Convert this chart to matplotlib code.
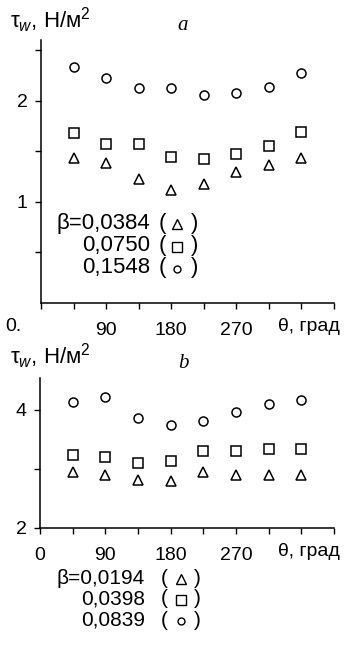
import matplotlib
matplotlib.use('Agg')
import matplotlib.pyplot as plt
from matplotlib.lines import Line2D

plt.rcParams['font.family'] = ['Liberation Sans', 'DejaVu Sans']
plt.rcParams['mathtext.fontset'] = 'custom'
plt.rcParams['mathtext.rm'] = 'Liberation Sans'
plt.rcParams['mathtext.it'] = 'Liberation Sans:italic'

# angle, degrees
theta = [45, 90, 135, 180, 225, 270, 315, 360]

# panel a
a_tri = [1.43, 1.38, 1.23, 1.12, 1.18, 1.30, 1.36, 1.43]
a_sq = [1.68, 1.57, 1.57, 1.44, 1.42, 1.47, 1.55, 1.69]
a_circ = [2.33, 2.22, 2.13, 2.13, 2.06, 2.08, 2.14, 2.27]
a_beta = ['β=0,0384', '0,0750', '0,1548']

# panel b
b_tri = [2.94, 2.89, 2.82, 2.80, 2.94, 2.89, 2.90, 2.90]
b_sq = [3.23, 3.21, 3.10, 3.14, 3.30, 3.30, 3.33, 3.33]
b_circ = [4.13, 4.21, 3.86, 3.75, 3.82, 3.96, 4.10, 4.17]
b_beta = ['β=0,0194', '0,0398', '0,0839']

W, H = 347, 651
fig = plt.figure(figsize=(W / 100, H / 100), dpi=100)

FS = 14


def px(x, y):
  # pixel position -> figure fraction
  return x / W, 1 - y / H


def setup(ax, ylim, yticks, ylabels):
  ax.set_xlim(0, 405)
  ax.set_ylim(*ylim)
  for s in ['top', 'right']:
    ax.spines[s].set_visible(False)
  for s in ['left', 'bottom']:
    ax.spines[s].set_linewidth(1.1)
  ax.set_xticks([0, 45, 90, 135, 180, 225, 270, 315, 360, 405])
  ax.set_yticks(yticks)
  ax.set_yticklabels(ylabels)
  ax.tick_params(direction='out', length=4.5, width=1.0, labelsize=FS)
  ax.tick_params(axis='x', pad=9)
  ax.tick_params(axis='y', pad=5)
  ax.annotate('θ, град', xy=(371, 0), xycoords=('data', 'axes fraction'),
              xytext=(0, -11), textcoords='offset points',
              ha='center', va='top', fontsize=FS)


def draw(ax, tri, sq, circ):
  ms, mew = 7.5, 1.1
  ax.plot(theta, tri, ls='none', marker='^', ms=ms, mfc='white', mec='black', mew=mew, clip_on=False)
  ax.plot(theta, sq, ls='none', marker='s', ms=ms - 0.5, mfc='white', mec='black', mew=mew, clip_on=False)
  ax.plot(theta, circ, ls='none', marker='o', ms=ms - 1, mfc='white', mec='black', mew=mew, clip_on=False)


def legend(names, x_right, x_par, x_mark, x_close, ys, fs):
  marks = ['^', 's', 'o']
  sizes = [6.5, 6.5, 5]
  for name, y, m, s in zip(names, ys, marks, sizes):
    fig.text(*px(x_right, y), name, ha='right', va='center', fontsize=fs)
    fig.text(*px(x_par, y), '(', ha='left', va='center', fontsize=fs)
    fig.text(*px(x_close, y), ')', ha='left', va='center', fontsize=fs)
    fx, fy = px(x_mark, y + 1)
    fig.add_artist(Line2D([fx], [fy], transform=fig.transFigure, ls='none', marker=m,
                          ms=s, mfc='white', mec='black', mew=1.0))


# --- panel a
ax1 = fig.add_axes([41 / W, 1 - 303 / H, (334 - 41) / W, (303 - 40) / H])
setup(ax1, (0, 2.6), [0.5, 1, 1.5, 2, 2.5], ['', '1', '', '2', ''])
ax1.set_xticklabels(['', '', '90', '', '180', '', '270', '', '', ''])
ax1.annotate('0.', xy=(0, 0), xycoords=('data', 'axes fraction'),
             xytext=(-20, -11), textcoords='offset points',
             ha='center', va='top', fontsize=FS)
draw(ax1, a_tri, a_sq, a_circ)
legend(a_beta, 150, 159, 177, 191, [223, 246, 268], 16)

fig.text(*px(10, 28), 'τ$_w$, Н/м$^2$', fontsize=16, ha='left', va='baseline')
fig.text(*px(183, 30), 'a', fontsize=FS + 1, family='Liberation Serif', style='italic',
         ha='center', va='baseline')

# --- panel b
ax2 = fig.add_axes([40 / W, 1 - 528 / H, (334 - 40) / W, (528 - 378) / H])
setup(ax2, (2, 4.54), [2, 3, 4], ['2', '', '4'])
ax2.set_xticklabels(['0', '', '90', '', '180', '', '270', '', '', ''])
draw(ax2, b_tri, b_sq, b_circ)
legend(b_beta, 145, 161, 181, 194, [578, 599, 620], 15)

fig.text(*px(10, 364), 'τ$_w$, Н/м$^2$', fontsize=16, ha='left', va='baseline')
fig.text(*px(183, 368), 'b', fontsize=FS + 1, family='Liberation Serif', style='italic',
         ha='center', va='baseline')

fig.savefig('out.png', dpi=100)
